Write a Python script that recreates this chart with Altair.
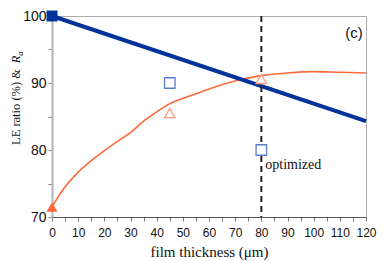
import altair as alt
import pandas as pd

# ---- data ----
curve_x = [0, 5, 10, 15, 20, 25, 30, 35, 40, 45, 50, 55, 60, 70, 80, 90, 100, 110, 120]
curve_y = [71.5, 74.5, 76.7, 78.4, 79.9, 81.3, 82.6, 84.3, 85.7, 86.9, 87.7, 88.4, 89.1,
           90.3, 91.1, 91.5, 91.7, 91.6, 91.5]

le_x = [0, 120]
le_y = [100, 84.3]

filled_x = [0, 0]
filled_y = [100, 71.5]
filled_shape = ["square", "triangle-up"]
filled_color = ["#003399", "#ff6633"]

open_x = [45, 45, 80, 80]
open_y = [90, 85.5, 90.6, 80]
open_shape = ["square", "triangle-up", "triangle-up", "square"]
open_color = ["#5a7ccc", "#ff9c80", "#ff9c80", "#5a7ccc"]

opt_x = [80]

x_ticks = list(range(0, 125, 5))
y_ticks = list(range(70, 105, 5))

W, H = 314, 201

xs = alt.Scale(domain=[0, 120], nice=False, zero=False)
ys = alt.Scale(domain=[70, 100], nice=False, zero=False)

x_axis = alt.Axis(values=x_ticks, labelExpr="datum.value % 10 === 0 ? datum.label : ''",
                  labelOverlap=False, labelFlush=False,
                  title="film thickness (μm)", grid=False, domainColor="#555555",
                  tickColor="#777777", tickSize=4, labelPadding=6, labelFontSize=12,
                  labelFont="Liberation Sans", labelColor="#111111", titleFont="Liberation Serif",
                  titleFontSize=15, titleFontWeight="normal", titleColor="#111111", titlePadding=6)
y_axis = alt.Axis(values=y_ticks, labelExpr="datum.value % 10 === 0 ? datum.label : ''",
                  labelOverlap=False, labelFlush=False,
                  title=None, grid=False, domainColor="#b5b5b5", domainWidth=2,
                  tickColor="#888888", tickSize=4, labelPadding=2, labelFontSize=14,
                  labelFont="Liberation Sans", labelColor="#111111")

X = alt.X("x:Q", scale=xs, axis=x_axis)
Y = alt.Y("y:Q", scale=ys, axis=y_axis)

curve_df = pd.DataFrame({"x": curve_x, "y": curve_y})
le_df = pd.DataFrame({"x": le_x, "y": le_y})
filled_df = pd.DataFrame({"x": filled_x, "y": filled_y, "shape": filled_shape, "color": filled_color})
open_df = pd.DataFrame({"x": open_x, "y": open_y, "shape": open_shape, "color": open_color})
opt_df = pd.DataFrame({"x": opt_x})

curve = alt.Chart(curve_df).mark_line(color="#ff6a3d", strokeWidth=1.6, interpolate="monotone").encode(
    x=X, y=Y)
le = alt.Chart(le_df).mark_line(color="#003399", strokeWidth=4).encode(x=X, y=Y)
rule = alt.Chart(opt_df).mark_rule(color="#222222", strokeWidth=2, strokeDash=[6, 4]).encode(x=X)
filled = alt.Chart(filled_df).mark_point(filled=True, opacity=1, size=120).encode(
    x=X, y=Y, shape=alt.Shape("shape:N", scale=None), color=alt.Color("color:N", scale=None))
opn = alt.Chart(open_df).mark_point(filled=False, fill="white", fillOpacity=1, opacity=1,
                                    size=110, strokeWidth=1.3).encode(
    x=X, y=Y, shape=alt.Shape("shape:N", scale=None), stroke=alt.Stroke("color:N", scale=None))

opt_text = alt.Chart(pd.DataFrame({"x": [81.5], "y": [77.1], "t": ["optimized"]})).mark_text(
    align="left", baseline="alphabetic", font="Liberation Serif", fontSize=14, color="#111111"
).encode(x=X, y=Y, text="t:N")
c_text = alt.Chart(pd.DataFrame({"x": [118.8], "y": [96.7], "t": ["(c)"]})).mark_text(
    align="right", baseline="alphabetic", font="Liberation Sans", fontSize=15, color="#111111"
).encode(x=X, y=Y, text="t:N")

# y-axis title composed of pieces (italic R with subscript a)
t1 = alt.Chart(pd.DataFrame({"t": ["LE ratio (%) & "]})).mark_text(
    align="left", baseline="alphabetic", angle=270, font="Liberation Serif", fontSize=12.5, color="#111111"
).encode(x=alt.value(-32), y=alt.value(129), text="t:N")
t2 = alt.Chart(pd.DataFrame({"t": ["R"]})).mark_text(
    align="left", baseline="alphabetic", angle=270, font="Liberation Serif", fontSize=12.5,
    fontStyle="italic", color="#111111"
).encode(x=alt.value(-32), y=alt.value(47.3), text="t:N")
t3 = alt.Chart(pd.DataFrame({"t": ["a"]})).mark_text(
    align="left", baseline="alphabetic", angle=270, font="Liberation Serif", fontSize=8.5,
    fontStyle="italic", color="#111111"
).encode(x=alt.value(-29), y=alt.value(39.7), text="t:N")

chart = alt.layer(curve, le, rule, opn, filled, opt_text, c_text, t1, t2, t3).properties(
    width=W, height=H,
    autosize=alt.AutoSizeParams(type="none"),
    padding={"left": 44, "top": 8, "right": 12, "bottom": 44},
).configure_view(stroke="#aaaaaa", strokeWidth=1)

chart.save("out.html", embed_options={"renderer": "svg", "actions": False})
